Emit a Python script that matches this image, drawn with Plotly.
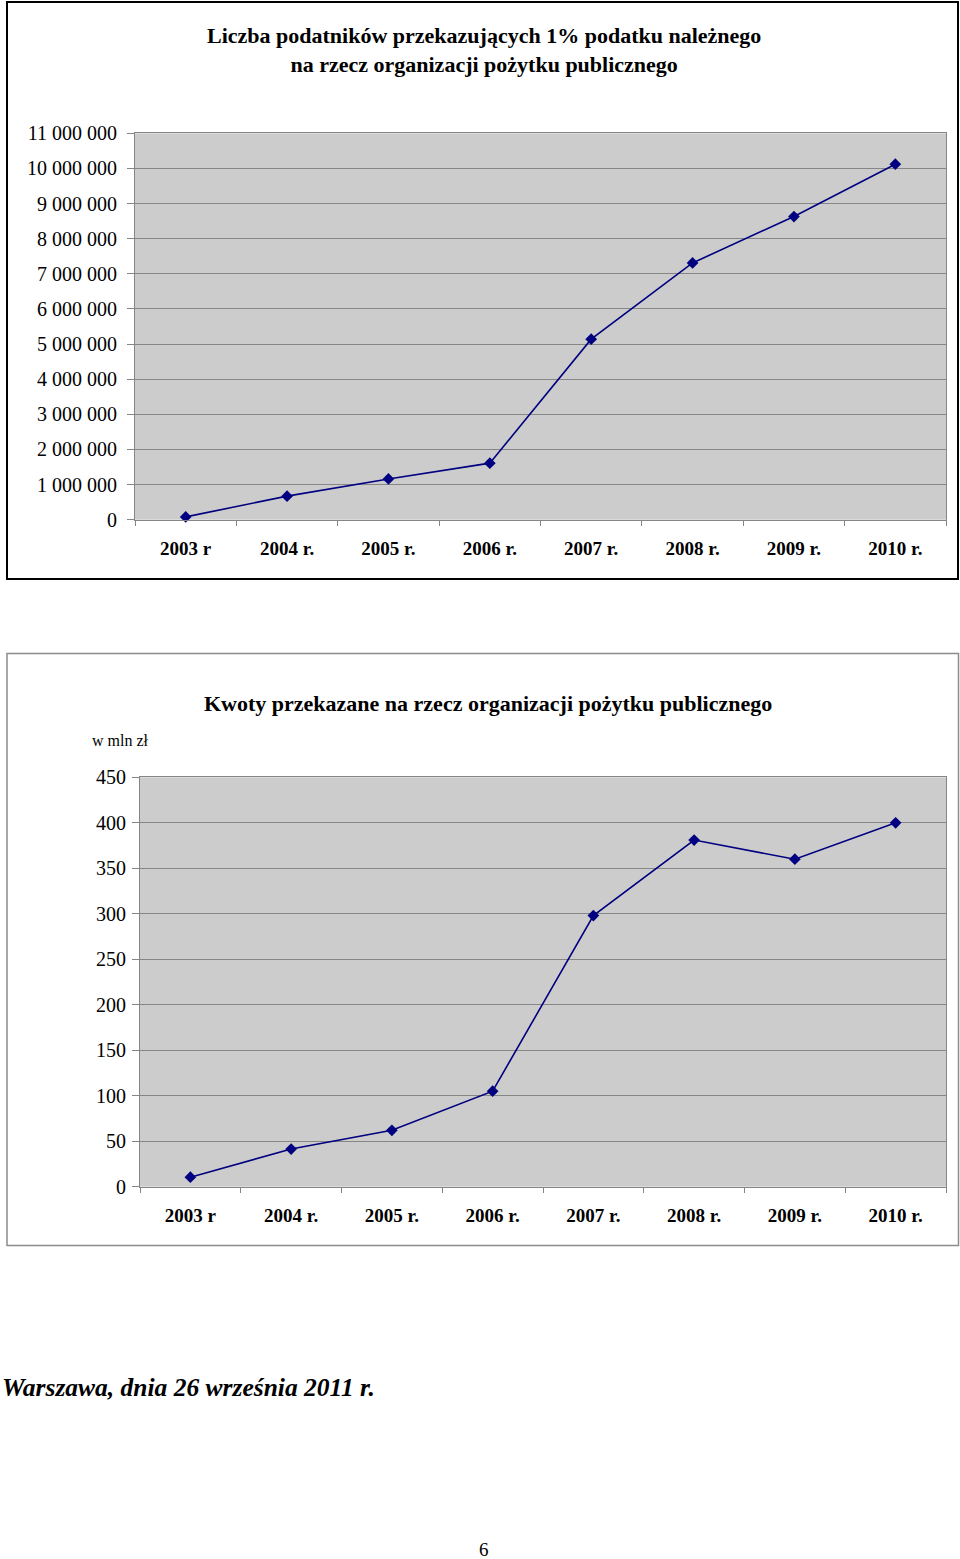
import plotly.graph_objects as go

W, H = 960, 1559

years = ["2003 r", "2004 r.", "2005 r.", "2006 r.", "2007 r.", "2008 r.", "2009 r.", "2010 r."]
taxpayers = [80000, 670000, 1160000, 1610000, 5140000, 7310000, 8630000, 10120000]
amounts_mln = [10.5, 41.4, 62.0, 105.0, 298.0, 381.0, 360.0, 400.0]

tax_tickvals = [0, 1000000, 2000000, 3000000, 4000000, 5000000, 6000000,
                7000000, 8000000, 9000000, 10000000, 11000000]
tax_ticktext = ["0", "1 000 000", "2 000 000", "3 000 000", "4 000 000", "5 000 000",
                "6 000 000", "7 000 000", "8 000 000", "9 000 000", "10 000 000", "11 000 000"]
amt_tickvals = [0, 50, 100, 150, 200, 250, 300, 350, 400, 450]
amt_ticktext = ["0", "50", "100", "150", "200", "250", "300", "350", "400", "450"]

title1 = "Liczba podatników przekazujących 1% podatku należnego<br>na rzecz organizacji pożytku publicznego"
title2 = "Kwoty przekazane na rzecz organizacji pożytku publicznego"
unit2 = "w mln zł"
footer = "Warszawa, dnia 26 września 2011 r."
page_no = "6"

SERIF = "Liberation Serif, Times New Roman, serif"
NAVY = "#000080"
GRID = "#868686"


def px_x(p):
    return p / W


def px_y(p):
    return 1 - p / H


fig = go.Figure()

fig.add_trace(go.Scatter(
    x=years, y=taxpayers, mode="lines+markers", xaxis="x", yaxis="y",
    line=dict(color=NAVY, width=1.6),
    marker=dict(symbol="diamond", size=9, color=NAVY),
    showlegend=False, cliponaxis=False,
))
fig.add_trace(go.Scatter(
    x=years, y=amounts_mln, mode="lines+markers", xaxis="x2", yaxis="y2",
    line=dict(color=NAVY, width=1.6),
    marker=dict(symbol="diamond", size=9, color=NAVY),
    showlegend=False, cliponaxis=False,
))

xcommon = dict(
    type="category", range=[-0.5, 7.5], tickson="boundaries",
    ticks="outside", ticklen=5, tickcolor=GRID, tickwidth=1,
    showline=True, linecolor=GRID, linewidth=1, mirror=True,
    showgrid=False, zeroline=False, fixedrange=True, automargin=False,
    tickfont=dict(family=SERIF, size=19, color="#000000"),
)
ycommon = dict(
    ticks="outside", ticklen=7, tickcolor=GRID, tickwidth=1,
    showline=True, linecolor=GRID, linewidth=1, mirror=True,
    showgrid=True, gridcolor=GRID, gridwidth=1, zeroline=False, fixedrange=True,
    automargin=False,
    tickfont=dict(family=SERIF, size=20, color="#000000"),
)

fig.update_layout(
    width=W, height=H,
    margin=dict(l=0, r=0, t=0, b=0, pad=0, autoexpand=False),
    paper_bgcolor="#ffffff",
    plot_bgcolor="#cccccc",
    xaxis=dict(domain=[px_x(135), px_x(946)], anchor="y",
               tickvals=years, ticktext=["<b>%s</b>" % y for y in years],
               ticklabelstandoff=11, **xcommon),
    yaxis=dict(domain=[px_y(519.7), px_y(133.3)], anchor="x",
               range=[0, 11000000], tickvals=tax_tickvals, ticktext=tax_ticktext,
               ticklabelstandoff=6, **ycommon),
    xaxis2=dict(domain=[px_x(140), px_x(946)], anchor="y2",
                tickvals=years, ticktext=["<b>%s</b>" % y for y in years],
                ticklabelstandoff=11, **xcommon),
    yaxis2=dict(domain=[px_y(1186.7), px_y(777.3)], anchor="x2",
                range=[0, 450], tickvals=amt_tickvals, ticktext=amt_ticktext,
                ticklabelstandoff=2, **ycommon),
    shapes=[
        dict(type="rect", xref="paper", yref="paper",
             x0=px_x(7), x1=px_x(958), y0=px_y(579), y1=px_y(2),
             line=dict(color="#000000", width=2), layer="below"),
        dict(type="rect", xref="paper", yref="paper",
             x0=px_x(7), x1=px_x(958.5), y0=px_y(1245.5), y1=px_y(653.5),
             line=dict(color="#8c8c8c", width=1.5), layer="below"),
    ],
    annotations=[
        dict(text="<b>%s</b>" % title1, xref="paper", yref="paper",
             x=px_x(484), y=px_y(50), xanchor="center", yanchor="middle",
             showarrow=False, align="center",
             font=dict(family=SERIF, size=22, color="#000000")),
        dict(text="<b>%s</b>" % title2, xref="paper", yref="paper",
             x=px_x(488), y=px_y(703), xanchor="center", yanchor="middle",
             showarrow=False, font=dict(family=SERIF, size=22, color="#000000")),
        dict(text=unit2, xref="paper", yref="paper",
             x=px_x(90), y=px_y(741), xanchor="left", yanchor="middle",
             showarrow=False, font=dict(family=SERIF, size=16, color="#000000")),
        dict(text="<b><i>%s</i></b>" % footer, xref="paper", yref="paper",
             x=px_x(0), y=px_y(1387), xanchor="left", yanchor="middle",
             showarrow=False, font=dict(family=SERIF, size=25.5, color="#000000")),
        dict(text=page_no, xref="paper", yref="paper",
             x=px_x(484), y=px_y(1549), xanchor="center", yanchor="middle",
             showarrow=False, font=dict(family=SERIF, size=19, color="#000000")),
    ],
)

fig.write_html(
    "out.html",
    config=dict(displayModeBar=False),
    post_script="document.body.style.margin='0';document.body.style.overflow='hidden';",
)
